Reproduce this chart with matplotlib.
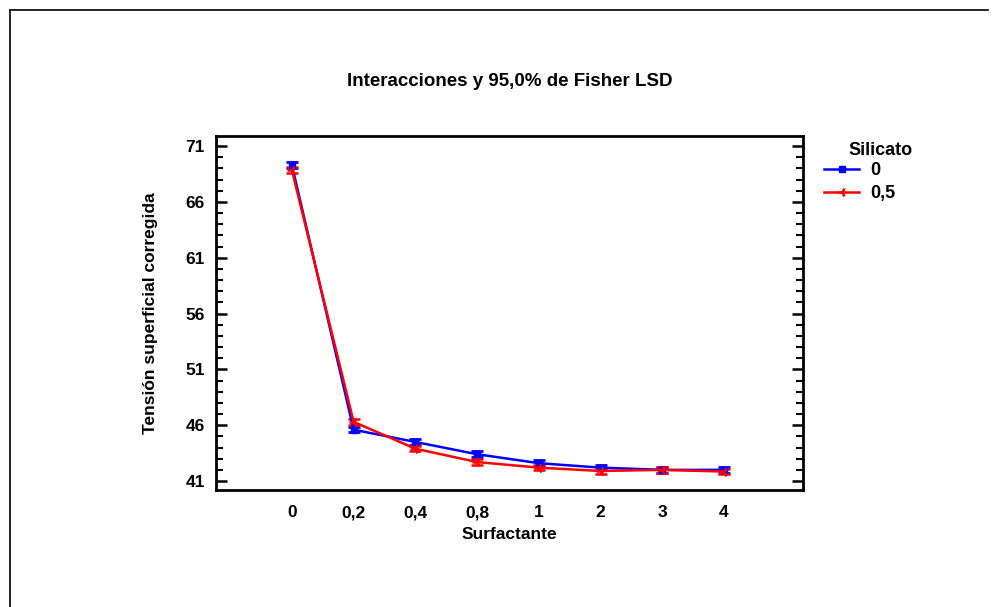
import matplotlib
matplotlib.use("Agg")
import matplotlib.pyplot as plt
from matplotlib.ticker import MultipleLocator
from matplotlib.lines import Line2D

plt.rcParams['font.family'] = ['Liberation Sans', 'DejaVu Sans']
plt.rcParams['font.weight'] = 'bold'

categories = ["0", "0,2", "0,4", "0,8", "1", "2", "3", "4"]
silicato_0 = [69.3, 45.6, 44.5, 43.4, 42.6, 42.2, 42.0, 42.0]
silicato_05 = [68.85, 46.3, 43.9, 42.7, 42.2, 41.9, 42.0, 41.85]
err_0 = [0.25, 0.25, 0.25, 0.25, 0.25, 0.25, 0.25, 0.25]
err_05 = [0.25, 0.25, 0.25, 0.25, 0.25, 0.25, 0.25, 0.25]
yticks = [41, 46, 51, 56, 61, 66, 71]

fig = plt.figure(figsize=(9.98, 6.07), dpi=100)
ax = fig.add_axes([0.2164, 0.1928, 0.5882, 0.5831])

x = list(range(len(categories)))
ax.errorbar(x, silicato_0, yerr=err_0, color='#0000ff', lw=1.8, marker='s', ms=4,
            capsize=4, elinewidth=1.8, capthick=2, label='0')
ax.errorbar(x, silicato_05, yerr=err_05, color='#ff0000', lw=1.8, marker='3', ms=7, mew=1.8,
            capsize=4, elinewidth=1.8, capthick=2, label='0,5')

ax.set_xlim(-1.23, 8.28)
ax.set_ylim(40.2, 71.9)
ax.set_xticks(x)
ax.set_xticklabels(categories)
ax.set_yticks(yticks)
ax.yaxis.set_minor_locator(MultipleLocator(1))
ax.tick_params(axis='x', length=0, labelsize=12.5, pad=11)
ax.tick_params(axis='y', which='major', direction='in', length=8, width=1.8,
               right=True, labelsize=12.5, pad=8)
ax.tick_params(axis='y', which='minor', direction='in', length=5, width=1.5, right=True)
for s in ax.spines.values():
    s.set_linewidth(2)
for lab in ax.get_xticklabels() + ax.get_yticklabels():
    lab.set_fontweight('bold')

ax.set_xlabel('Surfactante', fontsize=12.5, fontweight='bold', labelpad=5)
ax.set_ylabel('Tensión superficial corregida', fontsize=12.5, fontweight='bold', labelpad=20)
ax.set_title('Interacciones y 95,0% de Fisher LSD', fontsize=13.5, fontweight='bold', pad=36)

fig.text(0.882, 0.752, 'Silicato', ha='center', va='center', fontsize=13, fontweight='bold')
handles = [Line2D([], [], color='#0000ff', lw=1.8, marker='s', ms=4),
           Line2D([], [], color='#ff0000', lw=1.8, marker='3', ms=7, mew=1.8)]
leg = fig.legend(handles, ['0', '0,5'], loc='upper left',
                 bbox_to_anchor=(0.826, 0.733), frameon=False, fontsize=13,
                 handlelength=1.9, handletextpad=0.65, labelspacing=0.35, borderpad=0,
                 borderaxespad=0)
for t in leg.get_texts():
    t.set_fontweight('bold')

# outer frame
fig.add_artist(Line2D([0.010, 0.990], [0.983, 0.983], color='black', lw=1.2, transform=fig.transFigure))
fig.add_artist(Line2D([0.010, 0.010], [0.0, 0.983], color='black', lw=1.2, transform=fig.transFigure))

fig.savefig('out.png', dpi=100)
